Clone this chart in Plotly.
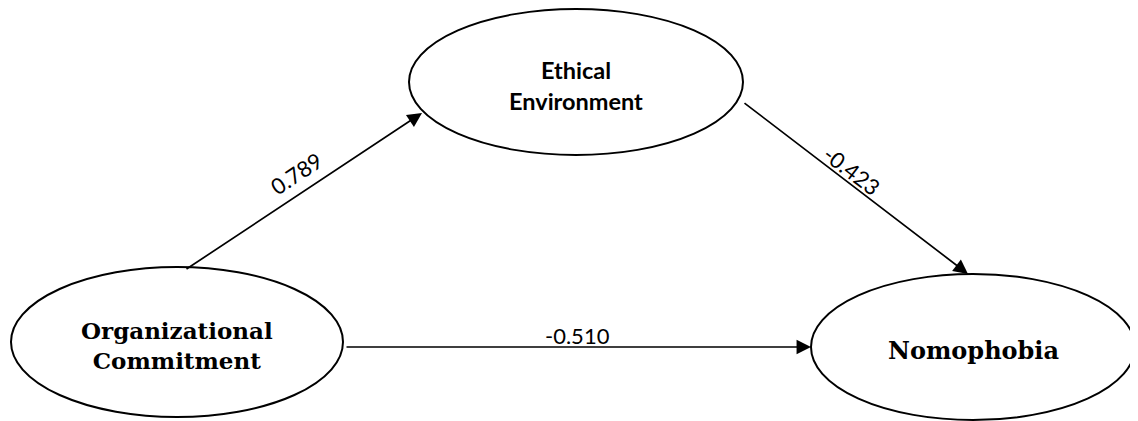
import plotly.graph_objects as go

# ---- data ----
node_names = ["Organizational<br>Commitment", "Ethical<br>Environment", "Nomophobia"]
edge_from = [0, 1, 0]
edge_to = [1, 2, 2]
edge_coef = ["0.789", "-0.423", "-0.510"]

# ---- layout geometry (page pixel coordinates, y down) ----
W, H = 1138, 421
PAGE_MARGIN = 8  # default body margin of the html page
node_cx = [177, 576, 973]
node_cy = [342, 82, 347]
node_rx = [166, 167, 162]
node_ry = [75, 73, 73]
node_text_y = [345, 85, 350]
node_font = [
    dict(family="DejaVu Serif", size=23, color="black", weight="bold"),
    dict(family="Lato", size=23.5, color="black", weight="bold"),
    dict(family="DejaVu Serif", size=24, color="black", weight="bold"),
]
edge_start = [(185, 270), (743, 102), (345, 347)]
edge_end = [(422, 113), (968, 274), (811, 347)]
label_pos = [(296, 173), (852, 170), (577, 335)]
label_angle = [-33.5, 37.5, 0]

fig = go.Figure()
fig.add_trace(go.Scatter(x=[PAGE_MARGIN, W], y=[PAGE_MARGIN, H], mode="markers",
                         marker=dict(opacity=0), hoverinfo="skip", showlegend=False))

for i, name in enumerate(node_names):
    fig.add_shape(type="circle", xref="x", yref="y",
                  x0=node_cx[i] - node_rx[i], x1=node_cx[i] + node_rx[i],
                  y0=node_cy[i] - node_ry[i], y1=node_cy[i] + node_ry[i],
                  line=dict(color="black", width=2), fillcolor="white", layer="below")
    fig.add_annotation(x=node_cx[i], y=node_text_y[i], xref="x", yref="y",
                       text=name, showarrow=False, font=node_font[i],
                       align="center")

for k in range(len(edge_coef)):
    (sx, sy), (ex, ey) = edge_start[k], edge_end[k]
    fig.add_annotation(x=ex, y=ey, ax=sx, ay=sy, xref="x", yref="y",
                       axref="x", ayref="y", text="", showarrow=True,
                       arrowhead=2, arrowsize=1.7, arrowwidth=1.7,
                       arrowcolor="black", standoff=0)
    lx, ly = label_pos[k]
    fig.add_annotation(x=lx, y=ly, xref="x", yref="y", text=edge_coef[k],
                       showarrow=False, textangle=label_angle[k],
                       font=dict(family="Lato", size=22, color="black"))

fig.update_xaxes(range=[PAGE_MARGIN, W], visible=False, fixedrange=True)
fig.update_yaxes(range=[H, PAGE_MARGIN], visible=False, fixedrange=True)
fig.update_layout(width=W - PAGE_MARGIN, height=H - PAGE_MARGIN,
                  margin=dict(l=0, r=0, t=0, b=0),
                  plot_bgcolor="white", paper_bgcolor="white", showlegend=False)

fig.write_html("out.html", config={"displayModeBar": False})
